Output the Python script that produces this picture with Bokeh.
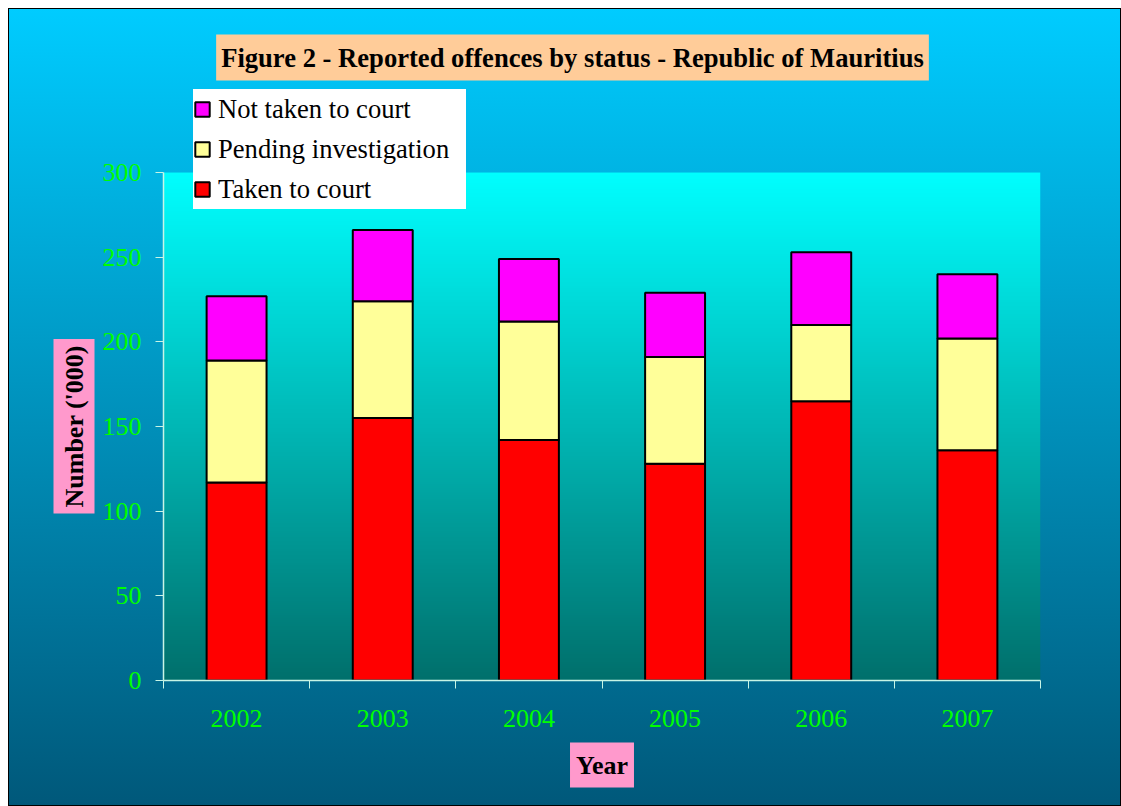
import numpy as np
from bokeh.plotting import figure
from bokeh.models import (ColumnDataSource, FixedTicker, Label, Legend, LegendItem,
                          Range1d, Title)
from bokeh.embed import file_html
from bokeh.resources import INLINE

years = ["2002", "2003", "2004", "2005", "2006", "2007"]
taken = [117, 155, 142, 128, 165, 136]
pending = [72, 69, 70, 63, 45, 66]
not_taken = [38, 42, 37, 38, 43, 38]
y_ticks = [0, 50, 100, 150, 200, 250, 300]
y_top = 300

xpos = [i + 0.5 for i in range(len(years))]
src = ColumnDataSource(dict(x=xpos, taken=taken, pending=pending, not_taken=not_taken))

FONT = "Liberation Serif"
AXIS_COL = "#C8F5E6"

# frame is taller than the axis so that the title and legend sit inside it
p = figure(width=1113, height=798, output_backend="svg", toolbar_location=None,
           x_range=Range1d(0, len(years)), y_range=Range1d(0, 389.8),
           min_border_left=155, min_border_right=81, min_border_top=12,
           min_border_bottom=126)
p.title.visible = False
p.border_fill_color = None
p.background_fill_color = None
p.outline_line_color = None
p.styles = {"background-image": "linear-gradient(to bottom, #00CCFF, #00587A)",
            "outline": "1px solid black", "outline-offset": "-1px",
            "margin-left": "8px", "margin-top": "8px"}

# plot-area gradient
n = 256
t = np.linspace(0, 1, n)
bot = np.array([0, 112, 108])
top = np.array([0, 255, 255])
img = np.empty((n, 1), dtype=np.uint32)
view = img.view(dtype=np.uint8).reshape((n, 1, 4))
for k in range(3):
    view[:, 0, k] = (bot[k] + (top[k] - bot[k]) * t).astype(np.uint8)
view[:, 0, 3] = 255
p.image_rgba(image=[img], x=0, y=0, dw=len(years), dh=y_top, level="image")

rs = p.vbar_stack(["taken", "pending", "not_taken"], x="x", width=0.41, source=src,
                  color=["#FF0000", "#FFFF99", "#FF00FF"],
                  line_color="black", line_width=2)

legend = Legend(items=[LegendItem(label="Not taken to court", renderers=[rs[2]]),
                       LegendItem(label="Pending investigation", renderers=[rs[1]]),
                       LegendItem(label="Taken to court", renderers=[rs[0]])],
                location=(30, 471))
legend.background_fill_color = "white"
legend.background_fill_alpha = 1
legend.border_line_color = None
legend.label_text_font = FONT
legend.label_text_font_size = "26.6px"
legend.label_text_color = "black"
legend.glyph_width = 18
legend.glyph_height = 18
legend.label_height = 40
legend.label_width = 248
legend.spacing = 0
legend.padding = 6
legend.margin = 0
legend.label_standoff = 7
p.add_layout(legend)

p.grid.grid_line_color = None
for ax in (p.xaxis, p.yaxis):
    ax.axis_line_color = AXIS_COL
    ax.axis_line_width = 1.5
    ax.major_tick_line_color = AXIS_COL
    ax.minor_tick_line_color = AXIS_COL
    ax.major_label_text_color = "#00FF00"
    ax.major_label_text_font = FONT
    ax.major_label_text_font_size = "26px"

p.xaxis.ticker = FixedTicker(ticks=xpos, minor_ticks=list(range(len(years) + 1)))
p.xaxis.major_label_overrides = {xv: yr for xv, yr in zip(xpos, years)}
p.xaxis.major_tick_out = 0
p.xaxis.major_tick_in = 0
p.xaxis.minor_tick_out = 8
p.xaxis.minor_tick_in = 0
p.xaxis.major_label_standoff = 21

p.yaxis.ticker = FixedTicker(ticks=y_ticks)
p.yaxis.bounds = (0, y_top)
p.yaxis.minor_tick_line_color = None
p.yaxis.major_tick_out = 8
p.yaxis.major_tick_in = 0
p.yaxis.major_label_standoff = 14

title = Label(x=409, y=623, x_units="screen", y_units="screen",
              text="Figure 2 - Reported offences by status - Republic of Mauritius",
              text_align="center", text_baseline="middle",
              text_font=FONT, text_font_size="26.6px", text_font_style="bold",
              text_color="black", background_fill_color="#FFCC99",
              padding=dict(left=5, right=5, top=8, bottom=8))
p.add_layout(title)

ylab = Title(text="Number ('000)", align="left", offset=167, standoff=10,
             text_font=FONT, text_font_size="26px", text_font_style="bold",
             text_color="black", background_fill_color="#FF99CC", padding=6)
p.add_layout(ylab, "left")

xlab = Title(text="Year", align="center", standoff=22,
             text_font=FONT, text_font_size="26px", text_font_style="bold",
             text_color="black", background_fill_color="#FF99CC",
             padding=dict(left=6, right=6, top=8, bottom=8))
p.add_layout(xlab, "below")

open("out.html", "w").write(file_html(p, INLINE))
